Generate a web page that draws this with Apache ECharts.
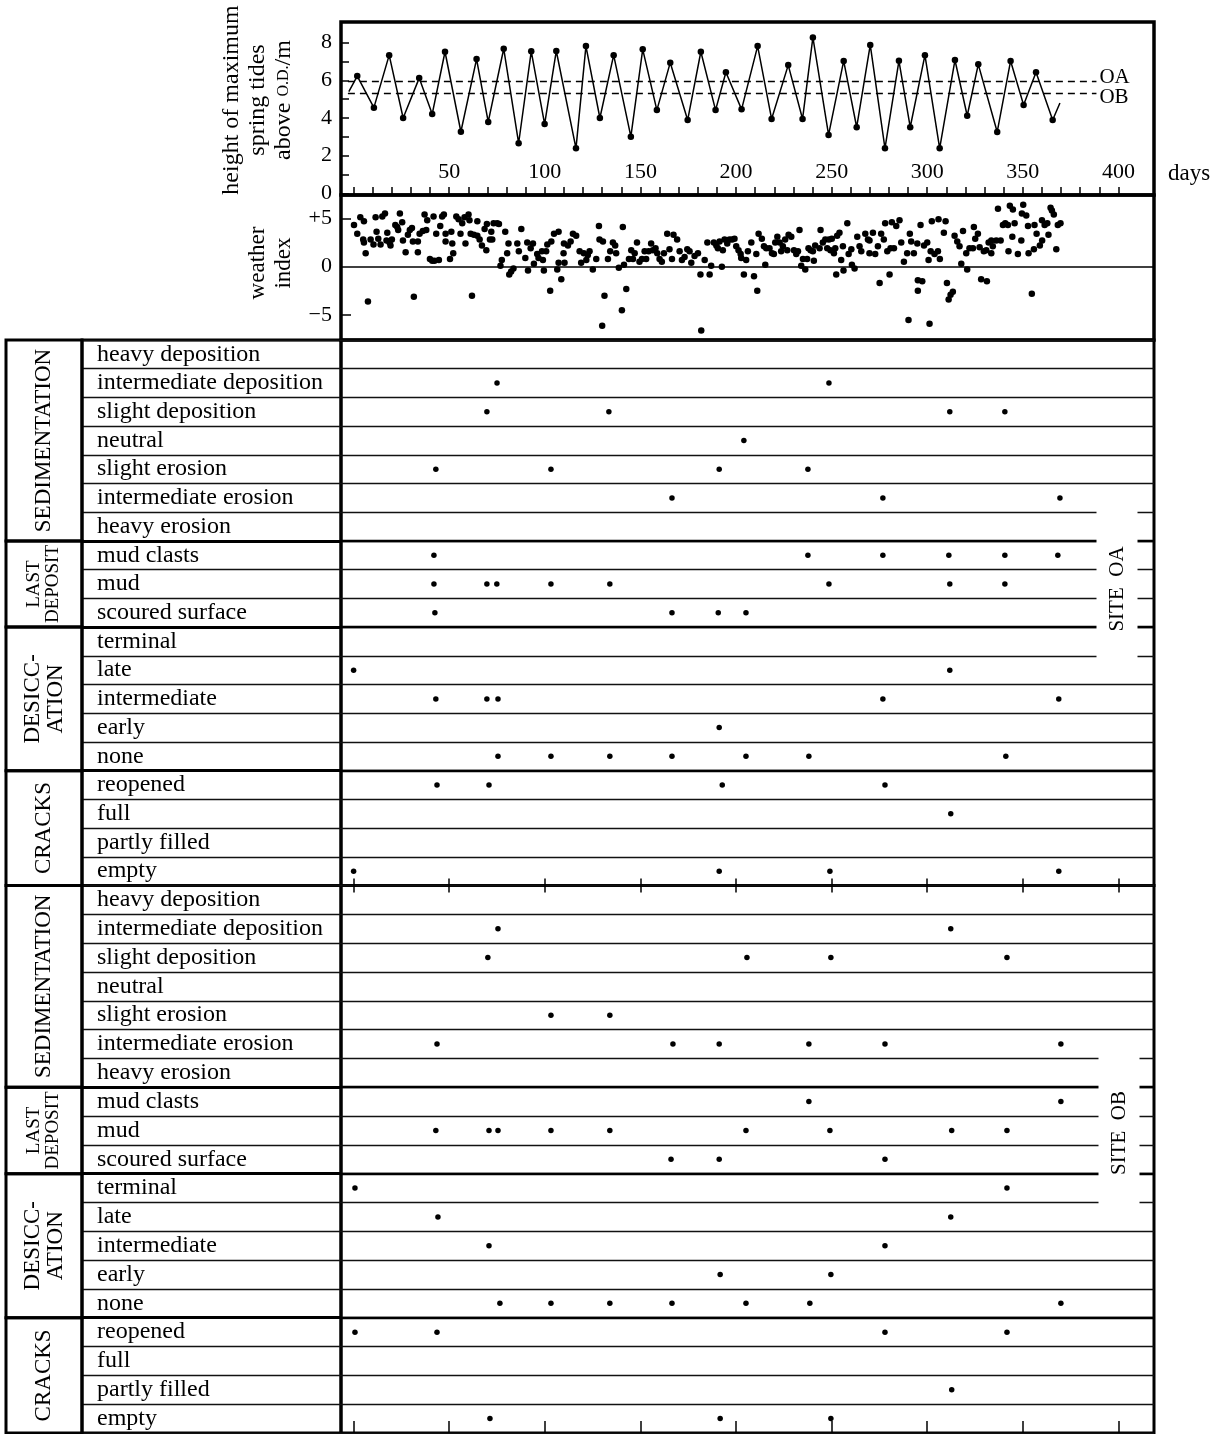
<!DOCTYPE html>
<html><head><meta charset="utf-8">
<script src="https://cdn.jsdelivr.net/npm/echarts@6/dist/echarts.min.js"></script>
<style>html,body{margin:0;padding:0;background:#fff}#c{width:1228px;height:1434px}</style>
</head><body><div id="c"></div>
<script>
// ---------------- DATA ----------------
const tideDays = [-2.5, 1.9, 10.6, 18.6, 25.9, 34.3, 41.1, 47.8, 56.1, 64.3, 70.4, 78.5, 86.3, 92.9, 99.9, 106.0, 116.3, 121.5, 128.8, 136.0, 145.0, 151.2, 158.6, 165.6, 174.7, 181.6, 189.3, 194.7, 202.9, 211.3, 218.6, 227.3, 234.8, 240.2, 248.4, 256.3, 263.1, 270.2, 277.9, 285.2, 291.1, 298.8, 306.5, 314.5, 320.9, 326.7, 336.6, 343.6, 350.4, 356.9, 365.6, 369.4];
const tideHeights = [5.4, 6.23, 4.55, 7.34, 4.00, 6.12, 4.21, 7.52, 3.27, 7.13, 3.79, 7.68, 2.66, 7.54, 3.68, 7.56, 2.39, 7.82, 4.00, 7.34, 3.01, 7.65, 4.42, 6.94, 3.89, 7.52, 4.42, 6.43, 4.46, 7.82, 3.95, 6.81, 3.95, 8.28, 3.10, 7.03, 3.51, 7.88, 2.39, 7.04, 3.51, 7.34, 2.39, 7.08, 4.12, 6.85, 3.26, 7.03, 4.69, 6.43, 3.89, 4.8];
const siteLevelNames = ['OA', 'OB'];
const siteLevels = [5.94, 5.31];

const weatherPoints = [
[0.2,4.3],[1.9,3.4],[3.5,5.1],[5.4,4.7],[5.0,2.8],[5.4,2.5],[6.3,1.4],[7.5,-3.6],[8.9,2.8],[10.4,2.3],[11.5,5.1],[12.0,3.6],[12.9,2.9],[14.1,2.3],[15.0,5.2],[16.4,5.5],[17.2,2.7],[17.6,3.5],[18.8,2.5],[19.3,2.2],[20.0,2.8],[21.8,4.3],[22.8,4.1],[23.3,3.8],[24.2,5.5],[25.4,4.6],[25.8,2.7],[27.2,1.5],[28.4,3.3],[29.4,3.8],[30.5,4.0],[31.0,2.6],[31.5,-3.1],[33.6,2.6],[33.6,1.5],[34.5,3.4],[36.2,3.7],[37.1,5.4],[38.0,3.8],[38.5,4.8],[39.9,0.8],[41.1,0.6],[42.3,0.6],[41.8,5.2],[43.2,3.4],[44.6,0.7],[45.3,4.2],[46.3,5.2],[47.2,5.4],[48.1,3.4],[48.1,2.6],[50.4,0.8],[51.1,3.6],[51.6,2.4],[52.1,1.4],[53.7,5.2],[54.9,4.9],[55.9,3.4],[56.8,4.5],[58.0,5.1],[58.5,2.4],[60.1,5.4],[60.6,4.8],[61.9,-3.0],[61.2,3.4],[62.9,3.3],[64.7,4.7],[64.7,3.2],[65.9,2.8],[67.1,2.2],[68.5,3.9],[69.4,1.7],[69.7,4.4],[71.3,2.8],[72.0,3.6],[72.5,2.8],[73.2,4.5],[75.1,4.5],[76.0,4.4],[76.8,0.1],[77.5,0.7],[79.3,3.6],[80.3,1.4],[81.0,2.4],[81.4,-0.8],[82.4,-0.5],[83.6,-0.2],[85.6,2.4],[86.4,1.6],[87.7,3.9],
[90.8,2.5],[89.8,0.9],[91.2,-0.4],[92.6,1.9],[93.8,2.4],[94.3,0.3],[96.0,1.3],[96.7,0.9],[98.5,1.6],[99.5,-0.4],[99.0,0.7],[100.7,1.6],[101.3,2.3],[102.8,-2.5],[103.4,2.6],[104.8,3.4],[106.5,-0.3],[107.2,3.6],[107.2,0.4],[108.6,-1.3],[109.8,1.4],[110.0,2.4],[110.3,0.4],[112.1,2.2],[113.5,2.6],[114.7,3.4],[116.4,3.2],[118.2,1.6],[119.0,0.4],[120.4,1.4],[121.7,0.7],[122.5,1.2],[123.4,1.6],[125.1,-0.3],[126.9,0.8],[128.3,4.2],[128.6,2.8],[130.4,2.6],[131.2,-3.0],[130.0,-6.1],[133.0,0.8],[134.2,1.6],[135.6,2.5],[136.8,2.2],[137.3,1.4],[138.7,-0.1],[140.3,-4.5],[140.8,4.1],[141.4,0.2],[142.6,-2.3],[144.0,0.8],[145.2,1.7],[146.1,0.8],[147.0,1.4],[148.2,2.5],[149.5,0.5],[150.8,0.8],[152.2,1.6],[153.0,0.8],[154.3,1.6],[155.6,2.4],[156.5,1.7],[157.9,1.9],[158.8,1.4],[160.0,0.8],[161.2,0.5],[162.3,1.4],[164.0,3.4],[165.2,1.8],[166.5,0.8],[167.3,3.3],[169.2,2.8],[170.5,1.6],[171.7,0.7],[173.1,1.0],[174.5,1.8],[175.7,1.6],[176.6,0.4],[178.3,1.1],[180.1,1.4],[181.4,-0.8],[181.8,-6.6],
[183.6,0.7],[185.0,2.5],[186.2,-0.8],[187.0,0.1],[188.4,2.5],[189.7,2.2],[190.5,1.9],[191.4,2.6],[192.6,0.0],[193.1,1.7],[194.0,2.8],[195.4,2.4],[196.6,2.8],[198.0,2.8],[199.2,2.9],[200.1,2.1],[201.3,1.7],[202.4,1.3],[202.7,0.9],[204.1,-0.8],[205.3,0.7],[206.2,1.6],[208.0,2.5],[209.4,-1.0],[211.1,-2.5],[210.6,1.3],[211.8,3.4],[213.5,2.9],[214.6,2.1],[215.3,0.2],[215.8,1.9],[217.5,1.9],[218.8,1.4],[219.8,1.3],[220.5,2.5],[221.6,3.1],[222.8,2.5],[223.6,1.6],[224.5,2.1],[225.7,2.8],[226.8,1.7],[227.5,3.3],[228.9,3.1],[230.3,1.7],[231.5,1.3],[232.4,1.6],[233.2,3.8],[234.1,0.1],[235.0,0.8],[236.2,-0.3],[237.2,0.8],[237.9,1.9],[239.0,1.7],[240.2,1.6],[240.7,0.6],[241.4,2.2],[243.7,1.9],[244.2,3.8],[245.4,2.5],[246.7,2.8],[247.7,1.9],[248.6,2.8],[249.4,1.7],[250.1,2.9],[251.2,1.4],[251.9,1.9],[252.4,-0.8],[252.9,3.2],[254.1,3.5],[255.0,0.7],[255.9,2.1],[256.2,-0.4],[258.2,4.5],[258.9,1.3],[260.3,1.8],[260.6,0.2],[262.0,-0.2],[263.4,3.1],[264.6,2.1],[265.5,1.6],[267.6,3.4],[269.0,2.8],[269.8,2.7],[269.8,1.4],[271.6,3.5],[272.8,1.3],[274.2,2.1],[275.1,-1.7],[275.9,3.4],
[277.3,2.8],[278.0,4.5],[279.1,1.6],[280.3,-0.8],[280.8,1.9],[281.5,4.6],[282.6,1.9],[283.8,4.2],[285.5,4.8],[286.4,2.5],[287.8,0.5],[289.5,1.4],[290.2,-5.5],[290.9,3.4],[291.6,2.6],[293.0,1.4],[294.8,2.4],[295.1,-1.4],[295.1,-2.5],[296.5,4.3],[297.4,-1.5],[298.3,2.2],[300.0,2.5],[300.7,0.7],[301.2,-5.9],[301.8,1.6],[302.4,4.7],[303.8,1.3],[305.6,1.6],[305.9,4.9],[306.6,0.8],[308.7,3.5],[309.6,4.7],[310.3,-1.7],[311.2,-3.4],[312.2,-2.9],[313.4,-2.6],[314.3,3.2],[315.7,2.6],[316.9,2.1],[317.8,0.3],[318.7,3.7],[320.4,1.4],[320.9,-0.3],[322.1,1.9],[323.9,1.9],[324.4,4.1],[325.1,2.9],[326.5,3.4],[327.4,2.0],[328.2,-1.3],[329.6,1.6],[330.9,1.7],[331.2,-1.5],[332.1,2.5],[333.5,2.7],[333.5,1.4],[334.3,2.1],[336.1,2.7],[337.0,6.0],[338.4,2.7],[339.6,4.3],[340.8,4.5],[342.2,4.3],[342.5,1.6],[343.2,6.3],[344.8,5.9],[344.5,3.1],[345.7,4.5],[347.4,1.3],[349.2,2.7],[349.5,5.5],[350.2,6.4],[351.8,5.3],[352.7,4.2],[353.0,1.4],[354.7,-2.8],[355.8,1.8],[356.1,4.3],[357.2,3.4],[358.9,2.2],[360.0,4.8],[360.1,2.7],[361.4,4.3],[362.8,4.5],[363.4,3.3],[364.5,6.1],[365.2,5.8],[366.2,5.4],[367.5,1.8],[368.3,4.3],[369.7,4.5]
];

const rowLabels = ['heavy deposition','intermediate deposition','slight deposition','neutral','slight erosion','intermediate erosion','heavy erosion','mud clasts','mud','scoured surface','terminal','late','intermediate','early','none','reopened','full','partly filled','empty'];
const groupNames = ['SEDIMENTATION','LAST\nDEPOSIT','DESICC-\nATION','CRACKS'];
const groupRows = [7, 3, 5, 4];
const siteNames = ['SITE  OA', 'SITE  OB'];

// days of observation, one list per row (top to bottom)
const siteOA = [
  [], [75, 248.6], [69.7, 133.5, 311.8, 340.6], [204.1], [43, 103.2, 191.2, 237.6], [166.5, 276.8, 369.4], [],
  [42, 237.6, 276.8, 311.3, 340.6, 368.3], [42, 69.7, 74.9, 103.2, 134, 248.6, 311.8, 340.6], [42.5, 166.5, 190.7, 205.2],
  [], [0, 311.8], [43, 69.7, 75.5, 276.8, 368.8], [191.2], [75.5, 103.2, 134, 166.5, 205.2, 238.1, 341.1],
  [43.6, 70.8, 192.8, 277.9], [312.3], [], [0, 191.2, 249.1, 368.8]
];
const siteOB = [
  [], [75.5, 312.3], [70.2, 205.7, 249.6, 341.7], [], [103.2, 134], [43.6, 167, 191.2, 238.1, 277.9, 369.9], [],
  [238.1, 369.9], [43, 70.8, 75.5, 103.2, 134, 205.2, 249.1, 312.8, 341.7], [166, 191.2, 277.9],
  [0.7, 341.7], [44.1, 312.3], [70.8, 277.9], [191.7, 249.6], [76.5, 103.2, 134, 166.5, 205.2, 238.6, 369.9],
  [0.7, 43.6, 277.9, 341.7], [], [312.8], [71.3, 191.7, 249.6]
];

const dayTicks = [0,10,20,30,40,50,60,70,80,90,100,110,120,130,140,150,160,170,180,190,200,210,220,230,240,250,260,270,280,290,300,310,320,330,340,350,360,370,380,390,400];
const dayLabels = [50,100,150,200,250,300,350,400];
const dayMajor = [0,50,100,150,200,250,300,350,400];
const tideTicks = [0,1,2,3,4,5,6,7,8];
const tideLabels = [0,2,4,6,8];
const weatherTicks = [-5,5];
const weatherLabels = [-5,0,5];

// ---------------- LAYOUT ----------------
const FONT = '"Liberation Serif","Times New Roman",serif';
const X_MIN = -6.6, X_MAX = 418.6;
const PL = 341, PR = 1228 - 1154;
const ROWS = rowLabels.length;
const siteTop = [340, 885.5], siteH = [545.5, 547.5];
const groupFont = [23, 19, 23, 23];

const groupStarts = [];
groupRows.reduce((acc, n) => { groupStarts.push(acc); return acc + n; }, 0);
const sectionLines = groupStarts.slice(1).map(v => ({ yAxis: v }));
const groupData = groupRows.map((n, i) => [groupStarts[i], groupStarts[i] + n, i]);

function siteDots(site) {
  const out = [];
  site.forEach((days, r) => days.forEach(d => out.push([d, r + 0.5])));
  return out;
}
function renderGroup(params, api) {
  const s = api.value(0), e = api.value(1), gi = api.value(2);
  const a = api.coord([0, s]), b = api.coord([1, e]);
  const x = Math.min(a[0], b[0]), y = Math.min(a[1], b[1]);
  const w = Math.abs(b[0] - a[0]), h = Math.abs(b[1] - a[1]);
  const fs = groupFont[gi];
  return { type: 'group', children: [
    { type: 'rect', shape: { x, y, width: w, height: h }, style: { fill: 'none', stroke: '#000', lineWidth: 3 } },
    { type: 'text', x: x + w / 2, y: y + h / 2, rotation: Math.PI / 2,
      style: { text: groupNames[gi], fontSize: fs, fontFamily: FONT, fill: '#000',
        align: 'center', verticalAlign: 'middle', textAlign: 'center', textVerticalAlign: 'middle', lineHeight: fs } }
  ]};
}

const black = '#000';
const noLine = { show: false, onZero: false };
const grids = [
  { left: PL, right: PR, top: 22, height: 173, show: true, borderColor: black, borderWidth: 3.5 },
  { left: PL, right: PR, top: 195, height: 145, show: true, borderColor: black, borderWidth: 3.5 },
  { left: PL, right: PR, top: siteTop[0], height: siteH[0], show: true, borderColor: black, borderWidth: 3 },
  { left: PL, right: PR, top: siteTop[1], height: siteH[1], show: true, borderColor: black, borderWidth: 3 },
  { left: 82, width: PL - 82, top: siteTop[0], height: siteH[0], show: true, borderColor: black, borderWidth: 3 },
  { left: 82, width: PL - 82, top: siteTop[1], height: siteH[1], show: true, borderColor: black, borderWidth: 3 },
  { left: 6, width: 76, top: siteTop[0], height: siteH[0] },
  { left: 6, width: 76, top: siteTop[1], height: siteH[1] }
];

const hiddenX = (g) => ({ gridIndex: g, type: 'value', min: 0, max: 1, show: false, axisLine: noLine });
const dayAxisBase = { type: 'value', min: X_MIN, max: X_MAX, axisLine: noLine, splitLine: { show: false } };
const tickStyle = { color: black, width: 1.5 };
const xAxes = [
  Object.assign({}, dayAxisBase, { gridIndex: 0, position: 'bottom',
    axisTick: { show: true, inside: true, length: 8, lineStyle: tickStyle, customValues: dayTicks },
    axisLabel: { inside: true, margin: 12, customValues: dayLabels, color: black, fontSize: 22, fontFamily: FONT } }),
  Object.assign({}, dayAxisBase, { gridIndex: 1, show: false }),
  Object.assign({}, dayAxisBase, { gridIndex: 2, position: 'bottom',
    axisTick: { show: true, inside: false, length: 7, lineStyle: tickStyle, customValues: dayMajor },
    axisLabel: { show: false } }),
  Object.assign({}, dayAxisBase, { gridIndex: 3, position: 'top',
    axisTick: { show: true, inside: false, length: 7, lineStyle: tickStyle, customValues: dayMajor },
    axisLabel: { show: false } }),
  Object.assign({}, dayAxisBase, { gridIndex: 3, position: 'bottom',
    axisTick: { show: true, inside: true, length: 12, lineStyle: tickStyle, customValues: dayMajor },
    axisLabel: { show: false } }),
  hiddenX(4), hiddenX(5), hiddenX(6), hiddenX(7)
];

const rowValueAxis = (g, showSplit) => ({ gridIndex: g, type: 'value', min: 0, max: ROWS, interval: 1, inverse: true,
  axisLine: noLine, axisTick: { show: false }, axisLabel: { show: false },
  splitLine: { show: showSplit, lineStyle: { color: '#111', width: 1.3 } } });
const rowLabelAxis = (g) => ({ gridIndex: g, type: 'category', data: rowLabels, inverse: true, position: 'left',
  axisLine: noLine, axisTick: { show: false }, splitLine: { show: false },
  axisLabel: { inside: true, margin: 15, interval: 0, color: black, fontSize: 24, fontFamily: FONT, padding: [6, 0, 0, 0] } });

const yAxes = [
  { gridIndex: 0, type: 'value', min: -0.09, max: 9.10, axisLine: noLine, splitLine: { show: false },
    axisTick: { show: true, inside: true, length: 8, lineStyle: tickStyle, customValues: tideTicks },
    axisLabel: { customValues: tideLabels, margin: 9, color: black, fontSize: 22, fontFamily: FONT } },
  { gridIndex: 1, type: 'value', min: -7.58, max: 7.41, axisLine: noLine, splitLine: { show: false },
    axisTick: { show: true, inside: true, length: 10, lineStyle: tickStyle, customValues: weatherTicks },
    axisLabel: { customValues: weatherLabels, margin: 9, color: black, fontSize: 22, fontFamily: FONT,
      formatter: v => v > 0 ? '+' + v : (v < 0 ? '\u2212' + (-v) : '0') } },
  rowValueAxis(2, true), rowValueAxis(3, true),
  rowValueAxis(4, true), rowLabelAxis(4),
  rowValueAxis(5, true), rowLabelAxis(5),
  rowValueAxis(6, false), rowValueAxis(7, false)
];

const tideData = tideDays.map((d, i) => ({ value: [d, tideHeights[i]],
  symbol: (i === 0 || i === tideDays.length - 1) ? 'none' : 'circle' }));

const levelLabelShift = [-4, 4];
const dotStyle = { color: black, opacity: 1 };
const series = [
  { type: 'line', xAxisIndex: 0, yAxisIndex: 0, data: tideData, symbolSize: 6.5,
    itemStyle: dotStyle, lineStyle: { color: black, width: 1.5 },
    markLine: { silent: true, symbol: ['none', 'none'],
      lineStyle: { color: black, width: 1.3, type: [7, 5] },
      label: { show: true, position: 'end', formatter: '{b}', distance: 3, color: black, fontSize: 21, fontFamily: FONT },
      data: siteLevels.map((v, i) => [
        { name: siteLevelNames[i], coord: [-3, v], label: { offset: [0, levelLabelShift[i]] } },
        { coord: [388.5, v], label: { offset: [0, levelLabelShift[i]] } }]) } },
  { type: 'scatter', xAxisIndex: 1, yAxisIndex: 1, data: weatherPoints, symbolSize: 6.5, itemStyle: dotStyle,
    markLine: { silent: true, symbol: ['none', 'none'], label: { show: false },
      lineStyle: { color: black, width: 1.6, type: 'solid' }, data: [{ yAxis: 0 }] } },
  { type: 'scatter', xAxisIndex: 2, yAxisIndex: 2, data: siteDots(siteOA), symbolSize: 5.5, itemStyle: dotStyle,
    markLine: { silent: true, symbol: ['none', 'none'], label: { show: false },
      lineStyle: { color: black, width: 2.4, type: 'solid' }, data: sectionLines } },
  { type: 'scatter', xAxisIndex: 4, yAxisIndex: 3, data: siteDots(siteOB), symbolSize: 5.5, itemStyle: dotStyle,
    markLine: { silent: true, symbol: ['none', 'none'], label: { show: false },
      lineStyle: { color: black, width: 2.4, type: 'solid' }, data: sectionLines } },
  { type: 'scatter', xAxisIndex: 5, yAxisIndex: 4, data: [[0.5, 0.5]], symbolSize: 0,
    markLine: { silent: true, symbol: ['none', 'none'], label: { show: false },
      lineStyle: { color: black, width: 3, type: 'solid' }, data: sectionLines } },
  { type: 'scatter', xAxisIndex: 6, yAxisIndex: 6, data: [[0.5, 0.5]], symbolSize: 0,
    markLine: { silent: true, symbol: ['none', 'none'], label: { show: false },
      lineStyle: { color: black, width: 3, type: 'solid' }, data: sectionLines } },
  { type: 'custom', xAxisIndex: 7, yAxisIndex: 8, data: groupData, renderItem: renderGroup },
  { type: 'custom', xAxisIndex: 8, yAxisIndex: 9, data: groupData, renderItem: renderGroup }
];

const textStyleBase = { fill: black, fontFamily: FONT, align: 'center', verticalAlign: 'middle', textAlign: 'center', textVerticalAlign: 'middle' };
const graphic = [
  { type: 'text', x: 258, y: 100, rotation: Math.PI / 2, z: 100,
    style: Object.assign({}, textStyleBase, { text: 'height of maximum\nspring tides\nabove {sc|O.D.}/m', fontSize: 24, lineHeight: 26,
      rich: { sc: { fontSize: 16, fontFamily: FONT, fill: black, lineHeight: 26 } } }) },
  { type: 'text', x: 271, y: 263, rotation: Math.PI / 2, z: 100,
    style: Object.assign({}, textStyleBase, { text: 'weather\nindex', fontSize: 23, lineHeight: 26 }) },
  { type: 'text', x: 1168, y: 174, z: 100,
    style: Object.assign({}, textStyleBase, { text: 'days', fontSize: 23, align: 'left', textAlign: 'left' }) },
  { type: 'text', x: 1117, y: 589, rotation: Math.PI / 2, z: 100,
    style: Object.assign({}, textStyleBase, { text: siteNames[0], fontSize: 21, backgroundColor: '#fff', padding: [10, 40] }) },
  { type: 'text', x: 1119, y: 1133, rotation: Math.PI / 2, z: 100,
    style: Object.assign({}, textStyleBase, { text: siteNames[1], fontSize: 21, backgroundColor: '#fff', padding: [10, 40] }) }
];

const chart = echarts.init(document.getElementById('c'));
chart.setOption({ animation: false, backgroundColor: '#fff', grid: grids, xAxis: xAxes, yAxis: yAxes, series, graphic });
</script></body></html>
